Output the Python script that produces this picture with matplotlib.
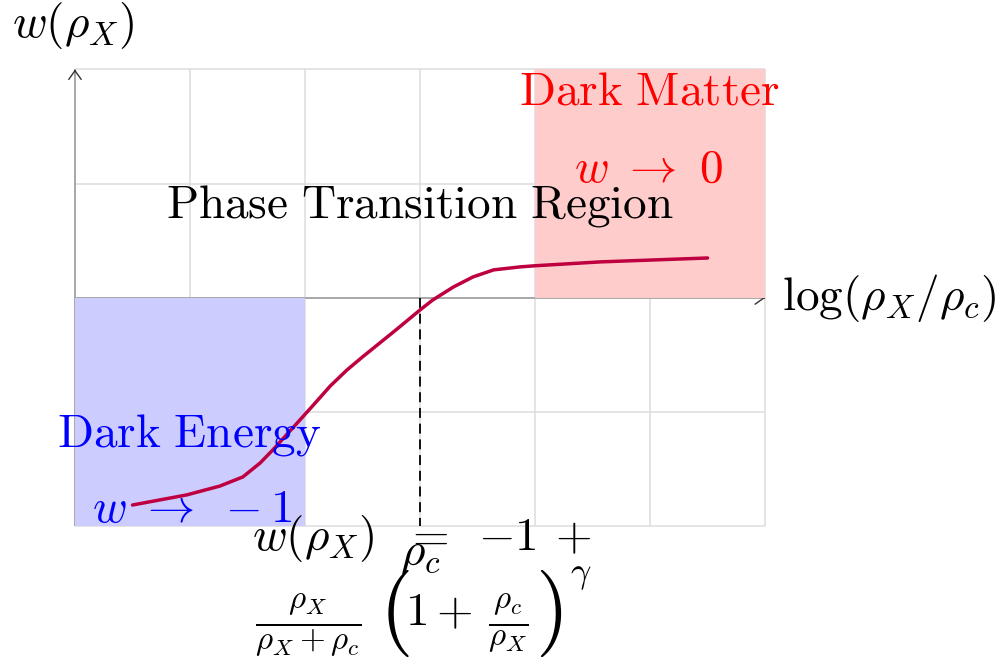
import matplotlib
matplotlib.use("Agg")
import matplotlib.pyplot as plt
from matplotlib.patches import Rectangle

plt.rcParams["mathtext.fontset"] = "cm"

# Equation of state w(rho_X) against log(rho_X / rho_c)
log_ratio = [-2.5, -2.03, -1.74, -1.54, -1.39, -1.28, -1.10, -0.93, -0.78, -0.635,
             -0.50, -0.35, -0.20, 0.0, 0.11, 0.29, 0.46, 0.64, 0.87, 1.0, 1.57, 2.5]
w_values = [-0.906, -0.862, -0.823, -0.783, -0.722, -0.665, -0.565, -0.47, -0.385, -0.315,
            -0.258, -0.197, -0.136, -0.0525, -0.009, 0.048, 0.092, 0.123, 0.136, 0.141,
            0.158, 0.175]

x_grid = [-3, -2, -1, 0, 1, 2, 3]
y_grid = [-1, -0.5, 0, 0.5, 1]

# Regions: (x0, x1, y0, y1)
dark_energy_box = (-3, -1, -1, 0)
dark_matter_box = (1, 3, 0, 1)
rho_c_position = 0.0

FS = 34

fig = plt.figure(figsize=(10, 6.58), dpi=100)
ax = fig.add_axes([0, 0, 1, 1])
ax.set_xlim(-3.652, 5.043)
ax.set_ylim(-1.5755, 1.304)
ax.axis("off")

# grid
for xv in x_grid:
    ax.plot([xv, xv], [y_grid[0], y_grid[-1]], color="#dcdcdc", lw=1.1, zorder=1,
            solid_capstyle="butt")
for yv in y_grid:
    ax.plot([x_grid[0], x_grid[-1]], [yv, yv], color="#dcdcdc", lw=1.1, zorder=1,
            solid_capstyle="butt")

# axes lines and arrow tips
ax.plot([x_grid[0], x_grid[0]], [y_grid[0], y_grid[-1]], color="#a8a8a8", lw=1.4,
        zorder=2, solid_capstyle="butt")
ax.plot([x_grid[0], x_grid[-1]], [0, 0], color="#a8a8a8", lw=1.4, zorder=2,
        solid_capstyle="butt")
tip_kw = dict(arrowstyle="->,head_length=0.45,head_width=0.32", color="#333333",
              lw=1.0, mutation_scale=14, shrinkA=0, shrinkB=0)
ax.annotate("", xy=(x_grid[0], y_grid[-1]), xytext=(x_grid[0], y_grid[-1] - 0.01),
            arrowprops=tip_kw, zorder=2)
ax.annotate("", xy=(x_grid[-1], 0), xytext=(x_grid[-1] - 0.01, 0),
            arrowprops=tip_kw, zorder=2)

# shaded regions
x0, x1, y0, y1 = dark_energy_box
ax.add_patch(Rectangle((x0, y0), x1 - x0, y1 - y0, facecolor="#ccccff",
                       edgecolor="none", zorder=3))
x0, x1, y0, y1 = dark_matter_box
ax.add_patch(Rectangle((x0, y0), x1 - x0, y1 - y0, facecolor="#ffcccc",
                       edgecolor="none", zorder=3))

# critical density marker
ax.plot([rho_c_position, rho_c_position], [0, -1], color="black", lw=1.3,
        linestyle=(0, (5.5, 3.2)), zorder=4)

# w(rho_X) curve
ax.plot(log_ratio, w_values, color="#bf0040", lw=2.5, zorder=5,
        solid_capstyle="round", solid_joinstyle="round")

# labels
txt = dict(fontsize=FS, zorder=6, va="baseline")
ax.text(-3.548, 1.142, r"$w(\rho_X)$", ha="left", **txt)
ax.text(3.148, -0.0525, r"$\log(\rho_X/\rho_c)$", ha="left", **txt)
ax.text(0.0, 0.354, r"$\mathrm{Phase\ Transition\ Region}$", ha="center", **txt)
ax.text(-2.01, -0.652, r"$\mathrm{Dark\ Energy}$", ha="center", color="blue", **txt)
ax.text(-1.98, -0.98, r"$w\ \rightarrow\ -1$", ha="center", color="blue", **txt)
ax.text(1.99, 0.845, r"$\mathrm{Dark\ Matter}$", ha="center", color="red", **txt)
ax.text(1.99, 0.508, r"$w\ \rightarrow\ 0$", ha="center", color="red", **txt)

# formula below the axis, first line
ax.text(-1.461, -1.103, r"$w(\rho_X)$", ha="left", **txt)
ax.text(0.052, -1.103, r"$=$", ha="center", **txt)
ax.text(0.504, -1.103, r"$-1$", ha="left", **txt)
ax.text(1.174, -1.103, r"$+$", ha="left", **txt)
ax.text(rho_c_position, -1.168, r"$\rho_c$", ha="center", **txt)

# formula, second line
ax.text(-1.435, -1.470, r"$\frac{\rho_X}{\rho_X+\rho_c}$", ha="left", **txt)
ax.text(-0.36, -1.475, r"$($", ha="left", fontsize=62, va="baseline", zorder=6)
ax.text(-0.13, -1.431, r"$1+$", ha="left", **txt)
ax.text(0.59, -1.470, r"$\frac{\rho_c}{\rho_X}$", ha="left", **txt)
ax.text(1.0, -1.475, r"$)$", ha="left", fontsize=62, va="baseline", zorder=6)
ax.text(1.30, -1.245, r"$\gamma$", ha="left", fontsize=26, va="baseline", zorder=6)

fig.savefig("out.png", dpi=100)
